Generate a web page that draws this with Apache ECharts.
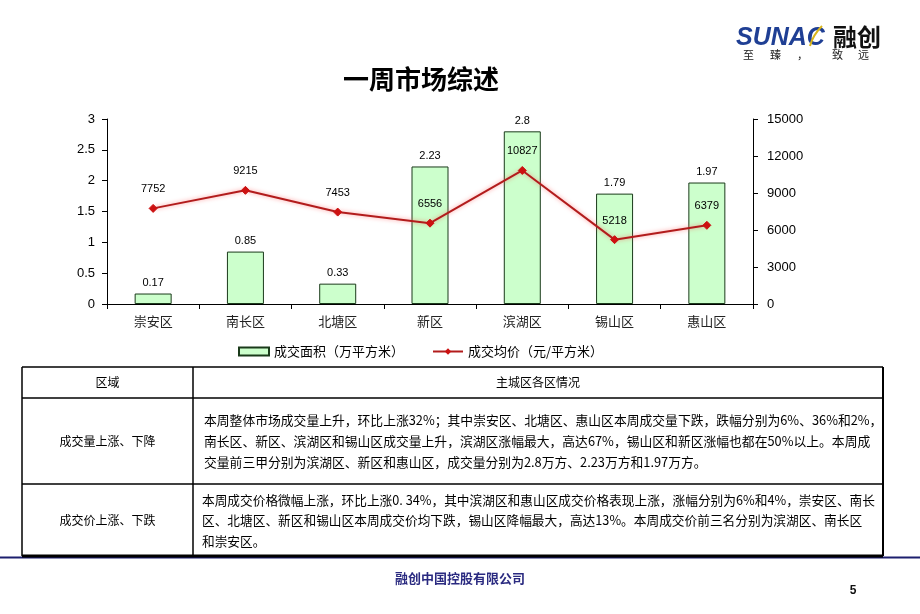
<!DOCTYPE html>
<html><head><meta charset="utf-8">
<script src="https://cdn.jsdelivr.net/npm/echarts@6/dist/echarts.min.js"></script>
<style>html,body{margin:0;padding:0;background:#fff}#c{width:920px;height:614px}</style>
</head><body><div id="c"></div>
<script>
const categories = ['崇安区','南长区','北塘区','新区','滨湖区','锡山区','惠山区'];
const areaValues = [0.17, 0.85, 0.33, 2.23, 2.8, 1.79, 1.97];
const priceValues = [7752, 9215, 7453, 6556, 10827, 5218, 6379];
const seriesNames = ['成交面积（万平方米）', '成交均价（元/平方米）'];
const leftTicks = {min: 0, max: 3, interval: 0.5};
const rightTicks = {min: 0, max: 15000, interval: 3000};
const titleText = '一周市场综述';
const tableHeader = ['区域', '主城区各区情况'];
const row1Label = '成交量上涨、下降';
const row1Lines = [
  '本周整体市场成交量上升，环比上涨32%；其中崇安区、北塘区、惠山区本周成交量下跌，跌幅分别为6%、36%和2%，',
  '南长区、新区、滨湖区和锡山区成交量上升，滨湖区涨幅最大，高达67%，锡山区和新区涨幅也都在50%以上。本周成',
  '交量前三甲分别为滨湖区、新区和惠山区，成交量分别为2.8万方、2.23万方和1.97万方。'
];
const row2Label = '成交价上涨、下跌';
const row2Lines = [
  '本周成交价格微幅上涨，环比上涨0. 34%，其中滨湖区和惠山区成交价格表现上涨，涨幅分别为6%和4%，崇安区、南长',
  '区、北塘区、新区和锡山区本周成交价均下跌，锡山区降幅最大，高达13%。本周成交价前三名分别为滨湖区、南长区',
  '和崇安区。'
];
const footerText = '融创中国控股有限公司';
const pageNo = '5';

const CJK = '"Noto Sans CJK SC", "Noto Sans", sans-serif';
const ARIAL = '"Liberation Sans", Arial, sans-serif';

const chart = echarts.init(document.getElementById('c'), null, {renderer: 'canvas'});

const g = [];
function line(x1,y1,x2,y2,w,c){ g.push({type:'line', shape:{x1,y1,x2,y2}, style:{stroke:c||'#000', lineWidth:w||1}, z:10}); }
function txt(x,y,t,opt){ g.push(Object.assign({type:'text', x, y, z:11, style:Object.assign({text:t, fill:'#000', font:'13px '+CJK, textVerticalAlign:'middle'}, opt||{})})); }

// Table
const TL=22, TR=883, TC=193, T0=367, T1=398, T2=484, T3=556;
line(TL,T0,TR,T0,1.5);
line(TL,T1,TR,T1,1.5);
line(TL,T2,TR,T2,1.5);
line(0,T3+1.5,920,T3+1.5,2,'#1c1f6e');
line(TL,T3,TR,T3,3);
line(TL,T0,TL,T3,1.5);
line(TR,T0,TR,T3,2);
line(TC,T0,TC,T3,1.5);
txt((TL+TC)/2, (T0+T1)/2, tableHeader[0], {textAlign:'center', font:'12px '+CJK});
txt((TC+TR)/2, (T0+T1)/2, tableHeader[1], {textAlign:'center', font:'12px '+CJK});
txt((TL+TC)/2, 441, row1Label, {textAlign:'center', font:'12px '+CJK});
txt((TL+TC)/2, 520, row2Label, {textAlign:'center', font:'12px '+CJK});
row1Lines.forEach((t,i)=>txt(204, 420 + i*21, t, {font:'12.8px '+CJK}));
row2Lines.forEach((t,i)=>txt(202, 500 + i*20.5, t, {font:'12.7px '+CJK}));

// Footer
txt(460, 578, footerText, {textAlign:'center', font:'bold 13px '+CJK, fill:'#2a2a80'});
txt(853, 591, pageNo, {textAlign:'center', font:'bold 12px '+ARIAL, fill:'#111'});

// Logo
txt(736, 38, 'SUNAC', {font:'italic bold 25px '+ARIAL, fill:'#1f3f94', textAlign:'left'});
txt(833, 37, '融创', {font:'bold 24px '+CJK, fill:'#111', textAlign:'left'});
['至','臻','，','致','远'].forEach((ch,i)=>txt([743,770,797,832,858][i], 55, ch, {font:'11px '+CJK, fill:'#222', textAlign:'left'}));
g.push({type:'bezierCurve', shape:{x1:810,y1:46,x2:822,y2:26,cpx1:812,cpy1:38,cpx2:818,cpy2:30}, style:{stroke:'#d9b51c', lineWidth:2}, z:12});

chart.setOption({
  animation: false,
  backgroundColor: '#fff',
  title: {text: titleText, left: 338, top: 61, textStyle:{fontFamily: CJK, fontSize: 26, fontWeight:'bold', color:'#000'}},
  legend: {
    left: 233, top: 340, itemWidth: 30, itemHeight: 8, itemGap: 28,
    textStyle: {fontFamily: CJK, fontSize: 13, color:'#000'},
    data: [{name: seriesNames[0], icon: 'rect'}, {name: seriesNames[1]}]
  },
  grid: {left: 107, right: 167, top: 119, bottom: 310, containLabel: false},
  xAxis: {
    type: 'category', data: categories,
    axisLine: {lineStyle:{color:'#000', width:1}},
    axisTick: {show: true, length: 5, lineStyle:{color:'#000'}},
    axisLabel: {fontFamily: CJK, fontSize: 13, color:'#222', margin: 11}
  },
  yAxis: [
    {type:'value', min:leftTicks.min, max:leftTicks.max, interval:leftTicks.interval,
     axisLine:{show:true, lineStyle:{color:'#000'}}, axisTick:{show:true, length:5, lineStyle:{color:'#000'}},
     splitLine:{show:false}, axisLabel:{fontFamily: ARIAL, fontSize:13, color:'#000', margin:12}},
    {type:'value', min:rightTicks.min, max:rightTicks.max, interval:rightTicks.interval,
     axisLine:{show:true, lineStyle:{color:'#000'}}, axisTick:{show:true, length:5, lineStyle:{color:'#000'}},
     splitLine:{show:false}, axisLabel:{fontFamily: ARIAL, fontSize:13, color:'#000', margin:14, formatter: v => String(v)}}
  ],
  series: [
    {name: seriesNames[0], type:'bar', data: areaValues, barWidth: 37, yAxisIndex: 0,
     itemStyle:{color:'#ccffcc', borderColor:'#1a3a1a', borderWidth:1},
     label:{show:true, position:'top', distance:5, fontFamily: ARIAL, fontSize:11, color:'#000'}},
    {name: seriesNames[1], type:'line', data: priceValues, yAxisIndex: 1,
     symbol:'diamond', symbolSize:8,
     lineStyle:{color:'#b21c1c', width:2, shadowColor:'rgba(255,80,80,0.6)', shadowBlur:4},
     itemStyle:{color:'#cc1111', borderColor:'#cc1111'},
     label:{show:true, position:'top', distance:9, fontFamily: ARIAL, fontSize:11, color:'#000'}}
  ],
  graphic: {elements: g}
});
</script></body></html>
